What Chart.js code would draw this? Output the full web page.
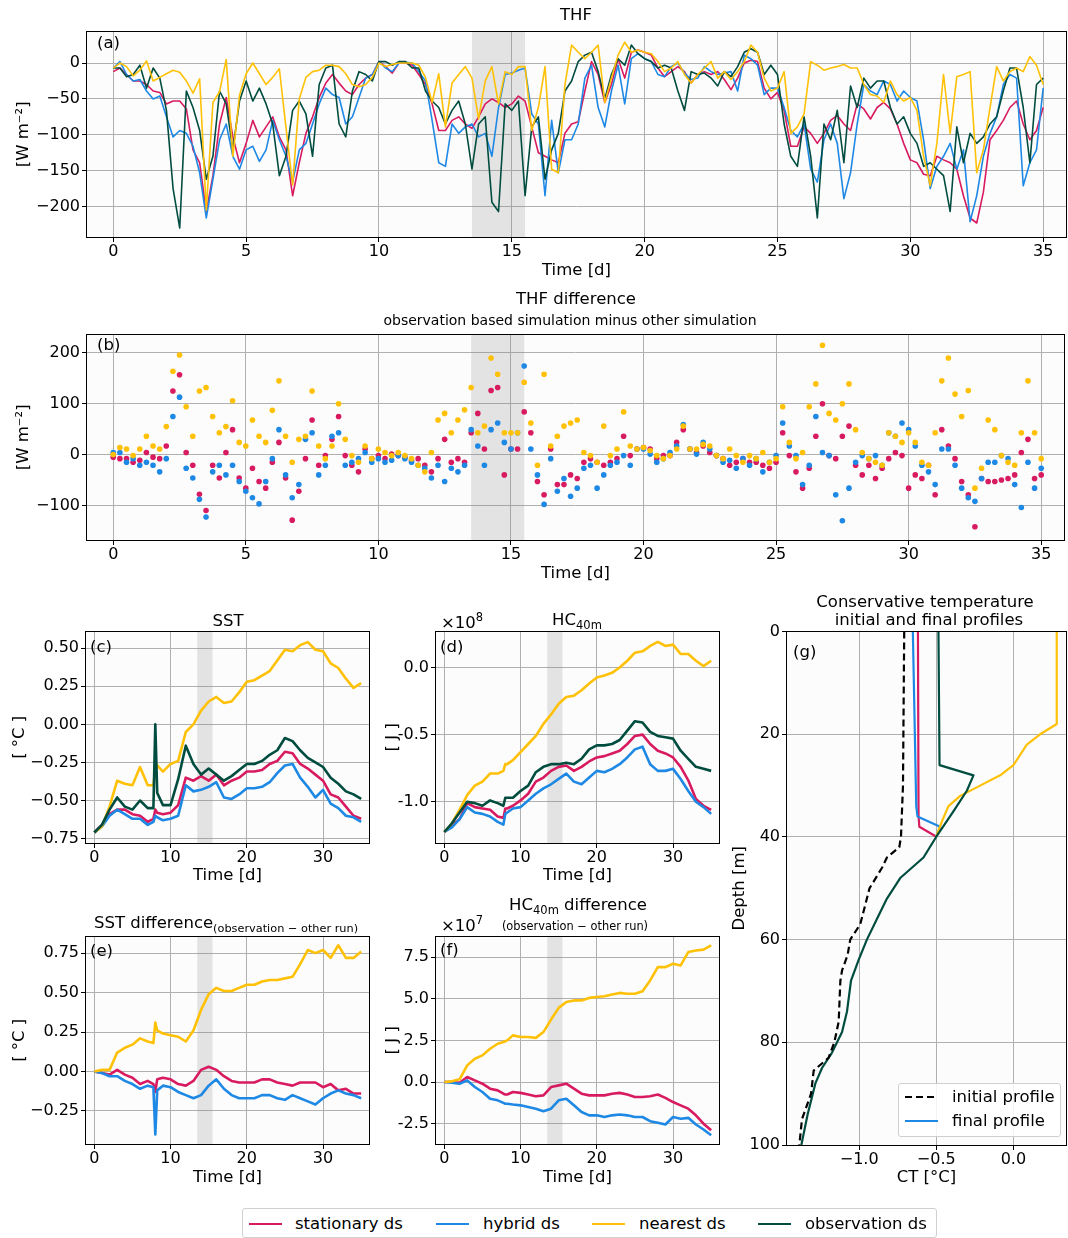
<!DOCTYPE html>
<html>
<head>
<meta charset="utf-8">
<script src="https://cdn.jsdelivr.net/npm/chart.js@4.4.1/dist/chart.umd.min.js"></script>
<style>
  body { margin: 0; background: #fff; }
  #fig { position: relative; width: 1068px; height: 1238px; overflow: hidden; font-family: 'DejaVu Sans', sans-serif; color: #000; }
  canvas { position: absolute; }
  .txt { position: absolute; white-space: nowrap; line-height: 1; font-size: 16.5px; z-index: 5; }
  .c { transform: translate(-50%, -50%); }
  .l { transform: translateY(-50%); }
  .sub { font-size: 11.5px; position: relative; top: 4px; }
  .sup { font-size: 11.5px; position: relative; top: -7px; }
  .box { position: absolute; box-sizing: border-box; border: 1px solid #d0d0d0; border-radius: 3px; background: rgba(255,255,255,0.85); z-index: 5; }
  .sw { position: absolute; width: 33px; height: 2px; }
  .lt { position: absolute; white-space: nowrap; line-height: 1; font-size: 16.5px; transform: translateY(-50%); }
</style>
</head>
<body>
<div id="fig">
  <canvas id="cA" width="1068" height="270" style="left:0;top:20px"></canvas>
  <canvas id="cB" width="1068" height="270" style="left:0;top:323px"></canvas>
  <canvas id="cC" width="380" height="270" style="left:0;top:620px"></canvas>
  <canvas id="cD" width="360" height="270" style="left:370px;top:620px"></canvas>
  <canvas id="cE" width="380" height="270" style="left:0;top:925px"></canvas>
  <canvas id="cF" width="360" height="270" style="left:370px;top:925px"></canvas>
  <canvas id="cG" width="343" height="580" style="left:725px;top:620px"></canvas>

  <div class="txt c" style="left:576px;top:15px">THF</div>
  <div class="txt c" style="left:576px;top:299px">THF difference</div>
  <div class="txt c" style="left:570px;top:320px;font-size:14px">observation based simulation minus other simulation</div>
  <div class="txt c" style="left:228px;top:621px">SST</div>
  <div class="txt c" style="left:577px;top:620px">HC<span class="sub">40m</span></div>
  <div class="txt l" style="left:441px;top:623px">×10<span class="sup">8</span></div>
  <div class="txt l" style="left:94px;top:923px">SST difference<span class="sub" style="font-size:11.3px">(observation − other run)</span></div>
  <div class="txt c" style="left:578px;top:905px">HC<span class="sub">40m</span> difference</div>
  <div class="txt c" style="left:575px;top:927px;font-size:11.4px">(observation − other run)</div>
  <div class="txt l" style="left:441px;top:926px">×10<span class="sup">7</span></div>
  <div class="txt c" style="left:925px;top:602px">Conservative temperature</div>
  <div class="txt c" style="left:929px;top:620px">initial and final profiles</div>

  <div class="txt l" style="left:97px;top:43px">(a)</div>
  <div class="txt l" style="left:97px;top:345px">(b)</div>
  <div class="txt l" style="left:90px;top:647px">(c)</div>
  <div class="txt l" style="left:440px;top:647px">(d)</div>
  <div class="txt l" style="left:90px;top:951px">(e)</div>
  <div class="txt l" style="left:440px;top:950px">(f)</div>
  <div class="txt l" style="left:793px;top:652px">(g)</div>

  <div class="box" style="left:898px;top:1083px;width:163px;height:54px">
    <span class="sw" style="left:6px;top:12px;background:repeating-linear-gradient(to right,#000 0 7px,transparent 7px 11px)"></span>
    <span class="lt" style="left:53px;top:13px">initial profile</span>
    <span class="sw" style="left:6px;top:36px;background:#1E88E5"></span>
    <span class="lt" style="left:53px;top:37px">final profile</span>
  </div>

  <div class="box" style="left:242px;top:1208px;width:695px;height:30px;background:#fff">
    <span class="sw" style="left:6px;top:14px;background:#D81B60"></span>
    <span class="lt" style="left:52px;top:15px">stationary ds</span>
    <span class="sw" style="left:193px;top:14px;background:#1E88E5"></span>
    <span class="lt" style="left:240px;top:15px">hybrid ds</span>
    <span class="sw" style="left:349px;top:14px;background:#FFC107"></span>
    <span class="lt" style="left:396px;top:15px">nearest ds</span>
    <span class="sw" style="left:515px;top:14px;background:#004D40"></span>
    <span class="lt" style="left:562px;top:15px">observation ds</span>
  </div>
</div>

<script>
// ---- time axes ----
const daysFine = [];
for (let i = 0; i <= 140; ++i) daysFine.push(i / 4);   // 0 .. 35 every 6 h
const daysCoarse = [0, 1, 2, 3, 4, 5, 6, 7, 7.75, 8, 8.25, 9, 10, 11, 12, 13, 14, 15, 16, 17, 18, 19, 20,
    21, 22, 23, 24, 25, 26, 27, 28, 29, 30, 31, 32, 33, 34, 35];

// ---- (a) THF [W m-2] ----
const thfStationary = [
    -12, -7, -16, -25, -25, -30, -39, -41, -57, -53, -53, -64,
    -121, -139, -207, -157, -85, -48, -103, -139, -112, -80, -103, -89,
    -75, -103, -121, -185, -139, -98, -75, -48, -28, -16, -28, -39,
    -44, -30, -21, -16, 2, -5, -14, 0, 0, -3, -16, -30,
    -57, -94, -94, -80, -75, -85, -91, -75, -57, -50, -55, -62,
    -57, -46, -53, -89, -125, -130, -135, -139, -98, -85, -82, -39,
    2, -16, -55, -30, 6, -21, 15, 18, 15, 11, -7, -19,
    -12, -5, -12, -28, -16, -12, -16, -12, -23, -37, -21, 0,
    4, 2, -35, -50, -41, -66, -116, -116, -89, -98, -112, -98,
    -80, -73, -85, -94, -57, -64, -78, -62, -55, -64, -85, -112,
    -135, -139, -155, -157, -130, -135, -139, -148, -185, -216, -223, -180,
    -107, -94, -80, -62, -53, -85, -107, -94, -62];
const thfHybrid = [
    -7, 2, -16, -25, -23, -39, -50, -46, -75, -103, -94, -98,
    -116, -153, -216, -162, -107, -85, -130, -148, -121, -116, -137, -121,
    -80, -107, -130, -166, -121, -112, -85, -57, -35, -44, -48, -85,
    -75, -48, -21, -16, 2, -7, -12, 0, 1, 0, -12, -25,
    -80, -139, -144, -85, -98, -89, -85, -103, -98, -130, -62, -16,
    -14, -10, -7, -71, -85, -185, -80, -153, -107, -107, -85, -21,
    -3, -62, -89, -39, -3, -57, 6, 13, 6, 2, -16, -19,
    -5, 0, -14, -23, -21, -5, -12, -16, -14, -12, -39, 11,
    6, -3, -44, -35, -35, -62, -94, -103, -85, -148, -166, -107,
    -85, -112, -189, -153, -85, -30, -39, -44, -25, -30, -53, -39,
    -48, -53, -107, -175, -144, -130, -112, -148, -121, -221, -185, -130,
    -98, -75, -30, -16, -21, -171, -139, -121, -35];
const thfNearest = [
    -7, 0, -5, -18, -10, 3, -25, -20, -15, -10, -13, -25,
    -42, -22, -205, -55, -40, 5, -130, -45, -15, 0, -15, -30,
    -20, -8, -90, -170, -50, -20, -12, -10, -3, -3, -5, -15,
    -30, -33, -30, -20, 0, -5, -2, 0, 0, 0, -3, -20,
    -55, -15, -89, -28, -16, -5, -21, -78, -25, -5, -57, -12,
    -16, -5, -5, -94, -62, -5, -148, -153, -30, 25, 15, 6,
    15, 25, -55, -21, 11, 29, 15, 18, 15, 13, 2, -12,
    -7, 2, -16, -28, -16, -7, 2, -21, -12, -23, -12, 2,
    25, 15, -21, -39, -35, -12, -98, -89, -71, 2, -3, -10,
    -7, -5, -2, -7, -7, -30, -44, -46, -55, -25, -44, -53,
    -48, -66, -130, -171, -112, -16, -98, -19, -16, -12, -153, -121,
    -62, -5, -25, -12, -7, -12, 9, -3, -30];
const thfObservation = [
    -7, -7, -19, -16, -3, -35, -7, -21, -66, -175, -230, -39,
    -62, -94, -162, -130, -39, -57, -121, -53, -25, -53, -35, -57,
    -85, -157, -130, -66, -53, -71, -130, -30, -7, -3, -85, -103,
    -39, -12, -16, -25, 2, 2, -3, 2, 2, -7, -7, -39,
    -53, -62, -85, -66, -53, -85, -148, -85, -75, -194, -207, -57,
    -66, -53, -185, -89, -75, -162, -121, -98, -39, -25, 2, 11,
    15, -12, -50, -16, 6, -3, 25, 13, 6, 2, -7, -3,
    -7, -39, -66, -12, -16, -14, -21, -32, -12, -19, -5, 15,
    20, 15, -16, -3, -16, -85, -130, -144, -75, -130, -216, -85,
    -107, -66, -139, -32, -62, -21, -35, -25, -25, -62, -85, -75,
    -98, -112, -144, -139, -148, -157, -207, -89, -139, -98, -112, -103,
    -85, -75, -39, -7, -7, -62, -139, -30, -21];

// ---- (b) THF difference, observation run minus other run [W m-2] ----
const diffStationary = [
    -5, -8, -8, -15, -11, 4, -5, -8, 17, 125, 157, 4,
    -21, -78, -110, -21, -46, 4, 49, -46, -66, -27, -53, -66,
    -15, 24, -46, -129, -72, -8, 68, -21, -2, 30, 75, -2,
    -21, -34, 11, -8, -2, -8, 1, -2, -5, -11, -8, -21,
    -34, -8, 30, -15, -8, -15, 43, 81, 11, 126, 132, -40,
    11, 11, 84, 43, -53, -79, 11, -59, -59, -40, -47, -15,
    -8, -15, -21, -15, -8, 36, -2, 11, 14, 11, -8, -2,
    -2, 24, 49, 11, 4, 17, 4, -2, -8, -21, -15, -8,
    -15, -15, -21, -27, -15, 43, -2, -34, -66, -27, 36, 100,
    -2, -8, 36, 56, -21, -40, -21, -47, -27, -8, 4, -2,
    -66, -40, -47, -21, -79, 49, 17, -8, -53, -79, -142, -47,
    -53, -53, -50, -47, -40, 4, 30, -47, -40];
const diffHybrid = [
    4, 4, -15, -8, -21, -15, -21, -34, -8, 75, 113, -27,
    -46, -88, -123, -34, -21, -40, -21, -53, -72, -85, -97, -53,
    -8, 49, -40, -85, -59, 30, 43, -40, -21, 36, 43, -21,
    -15, -8, 4, -15, -8, -15, -11, -2, -8, -15, -21, -27,
    -46, -21, -53, -27, -34, -21, 49, 17, -21, 49, 62, 24,
    11, 43, 174, 11, -40, -98, -8, -72, -47, -82, -66, -27,
    -21, -66, -40, -21, -15, -2, -21, 11, 11, 1, -15, -8,
    4, 17, 59, 11, 1, 24, 11, -2, -15, -11, -27, -8,
    -21, -8, -34, -15, -2, 62, 17, -2, -59, -21, 75, 4,
    -2, -79, -130, -66, -15, -2, -8, -2, -21, 43, 36, 62,
    49, 17, -21, -34, -59, 11, 11, -21, -66, -85, -92, -47,
    -15, -15, -2, -8, -59, -104, -15, -66, -27];
const diffNearest = [
    0, 14, 11, -2, 11, 36, 17, 11, 55, 164, 196, 94,
    36, 125, 132, 75, 43, 55, 106, 24, 17, 68, 36, 24,
    87, 145, 36, -15, 30, 36, 125, 17, -8, 17, 100, 30,
    -2, -15, 17, -8, 11, 4, -2, 4, -2, -8, -21, -34,
    4, 68, 81, 43, 68, 88, 132, 43, 56, 190, 158, 43,
    43, 43, 142, 62, -21, 158, 17, 36, 56, 62, 68, 4,
    -2, -15, 56, -2, 11, 84, 17, 11, 14, 8, -2, -8,
    -2, 11, 56, 11, 11, 20, 17, -2, -8, 11, -2, -15,
    -2, -8, 4, -15, -8, 94, 24, -8, 4, 94, 139, 215,
    81, 68, 100, 139, 49, 4, -8, -15, -21, 43, 36, 24,
    43, 24, -15, -21, 43, 145, 190, 119, 75, 126, -66, -27,
    68, 49, -2, -15, -21, 43, 145, 43, -8];

// ---- (c) SST [°C] ----
const sstStationary = [-0.71, -0.66, -0.59, -0.56, -0.56, -0.59, -0.60, -0.64, -0.62, -0.56, -0.58,
    -0.59, -0.58, -0.53, -0.35, -0.37, -0.34, -0.37, -0.33, -0.40, -0.37, -0.35, -0.31, -0.31, -0.30,
    -0.26, -0.24, -0.18, -0.19, -0.26, -0.29, -0.33, -0.37, -0.46, -0.48, -0.54, -0.60, -0.62];
const sstHybrid = [-0.71, -0.67, -0.60, -0.56, -0.59, -0.62, -0.62, -0.66, -0.64, -0.60, -0.61,
    -0.63, -0.62, -0.60, -0.40, -0.44, -0.43, -0.41, -0.38, -0.48, -0.49, -0.46, -0.42, -0.42, -0.41,
    -0.38, -0.32, -0.27, -0.26, -0.35, -0.41, -0.48, -0.43, -0.52, -0.55, -0.60, -0.61, -0.64];
const sstNearest = [-0.71, -0.67, -0.54, -0.37, -0.39, -0.40, -0.28, -0.40, -0.40, -0.29, -0.27,
    -0.31, -0.26, -0.24, -0.05, 0.0, 0.09, 0.15, 0.18, 0.14, 0.15, 0.21, 0.28, 0.29, 0.32,
    0.35, 0.42, 0.49, 0.48, 0.52, 0.54, 0.49, 0.48, 0.40, 0.37, 0.30, 0.24, 0.27];
const sstObservation = [-0.71, -0.66, -0.56, -0.48, -0.54, -0.56, -0.50, -0.55, -0.55, 0.0, -0.45,
    -0.53, -0.53, -0.36, -0.14, -0.26, -0.33, -0.29, -0.33, -0.37, -0.34, -0.30, -0.26, -0.26, -0.24,
    -0.20, -0.17, -0.09, -0.11, -0.17, -0.22, -0.25, -0.28, -0.35, -0.39, -0.44, -0.46, -0.49];

// ---- (d) HC40m [x1e8 J] ----
const hcStationary = [-1.225, -1.175, -1.13, -1.01, -1.04, -1.05, -1.06, -1.11, -1.12, -1.05, -1.05,
    -1.03, -0.99, -0.94, -0.85, -0.82, -0.77, -0.74, -0.73, -0.77, -0.74, -0.70, -0.67, -0.66, -0.64,
    -0.62, -0.57, -0.51, -0.50, -0.57, -0.62, -0.64, -0.67, -0.74, -0.84, -0.98, -1.03, -1.06];
const hcHybrid = [-1.225, -1.19, -1.13, -1.04, -1.08, -1.09, -1.11, -1.15, -1.17, -1.09, -1.08,
    -1.05, -1.04, -0.99, -0.94, -0.90, -0.87, -0.83, -0.79, -0.85, -0.87, -0.82, -0.77, -0.78, -0.755,
    -0.72, -0.67, -0.61, -0.59, -0.72, -0.77, -0.77, -0.755, -0.83, -0.92, -1.00, -1.04, -1.09];
const hcNearest = [-1.225, -1.16, -1.06, -0.95, -0.88, -0.85, -0.79, -0.79, -0.77, -0.72, -0.72,
    -0.69, -0.63, -0.57, -0.51, -0.42, -0.35, -0.27, -0.22, -0.21, -0.17, -0.12, -0.075, -0.06, -0.04,
    0.0, 0.05, 0.11, 0.12, 0.16, 0.19, 0.16, 0.17, 0.10, 0.10, 0.05, 0.01, 0.05];
const hcObservation = [-1.225, -1.16, -1.08, -1.00, -1.01, -1.03, -0.99, -1.01, -1.03, -0.97, -0.97,
    -0.97, -0.92, -0.88, -0.78, -0.74, -0.72, -0.72, -0.71, -0.72, -0.68, -0.61, -0.58, -0.58, -0.57,
    -0.54, -0.47, -0.40, -0.41, -0.48, -0.51, -0.52, -0.53, -0.62, -0.68, -0.74, -0.755, -0.77];

// ---- (e) SST difference, observation minus other run [°C] ----
const sstDiffStationary = [0, -0.01, -0.02, 0.01, -0.02, -0.04, -0.08, -0.06, -0.08, -0.13, -0.05,
    -0.04, -0.05, -0.08, -0.09, -0.06, 0.01, 0.03, 0.01, -0.03, -0.06, -0.07, -0.07, -0.07, -0.05,
    -0.05, -0.07, -0.08, -0.09, -0.07, -0.07, -0.07, -0.10, -0.08, -0.12, -0.11, -0.14, -0.14];
const sstDiffHybrid = [0, -0.01, -0.03, -0.03, -0.06, -0.08, -0.11, -0.09, -0.10, -0.40, -0.12,
    -0.09, -0.10, -0.13, -0.15, -0.17, -0.15, -0.09, -0.05, -0.11, -0.15, -0.17, -0.17, -0.17, -0.15,
    -0.15, -0.17, -0.18, -0.15, -0.17, -0.19, -0.21, -0.17, -0.14, -0.12, -0.14, -0.15, -0.17];
const sstDiffNearest = [0, 0.01, 0.01, 0.12, 0.15, 0.17, 0.21, 0.19, 0.18, 0.31, 0.26,
    0.24, 0.23, 0.22, 0.19, 0.26, 0.39, 0.49, 0.53, 0.51, 0.51, 0.53, 0.55, 0.55, 0.57,
    0.58, 0.58, 0.59, 0.60, 0.68, 0.77, 0.75, 0.77, 0.72, 0.80, 0.72, 0.72, 0.76];

// ---- (f) HC40m difference, observation minus other run [x1e7 J] ----
const hcDiffStationary = [0, 0, -0.04, 0.3, 0.1, -0.1, -0.4, -0.5, -0.7, -0.75, -0.75,
    -0.6, -0.65, -0.75, -0.85, -0.8, -0.3, -0.2, -0.1, -0.4, -0.7, -0.8, -0.8, -0.8, -0.7,
    -0.65, -0.75, -0.9, -0.9, -0.85, -0.75, -0.95, -1.2, -1.4, -1.6, -2.0, -2.5, -2.9];
const hcDiffHybrid = [0, -0.04, -0.1, 0.1, -0.3, -0.6, -1.0, -1.1, -1.25, -1.3, -1.3,
    -1.35, -1.4, -1.5, -1.6, -1.75, -1.6, -1.1, -1.0, -1.4, -1.8, -2.0, -2.0, -2.1, -2.0,
    -1.95, -2.0, -2.1, -2.1, -2.35, -2.45, -2.55, -2.1, -2.2, -2.15, -2.55, -2.85, -3.2];
const hcDiffNearest = [0, 0.04, 0.16, 1.0, 1.4, 1.6, 2.0, 2.3, 2.4, 2.45, 2.5,
    2.8, 2.7, 2.7, 2.65, 3.0, 3.75, 4.45, 4.8, 4.9, 4.9, 5.05, 5.1, 5.15, 5.25,
    5.35, 5.3, 5.3, 5.45, 6.1, 6.9, 6.9, 7.1, 7.0, 7.8, 7.9, 7.95, 8.2];

// ---- (g) conservative temperature profiles [°C] vs depth [m] ----
const depthInitial = [0, 30, 40, 42, 44, 46, 50, 57, 60, 63, 66, 68, 76, 80, 83, 85.5, 90, 95, 100];
const ctInitial = [-0.708, -0.716, -0.729, -0.740, -0.82, -0.852, -0.933, -0.993, -1.058, -1.075, -1.111,
    -1.122, -1.133, -1.161, -1.198, -1.295, -1.312, -1.371, -1.388];
const depthObservation = [0, 26, 28, 31, 35, 40, 44, 48, 52, 56, 60, 64, 68, 74, 78, 82, 85, 88, 94, 100];
const ctObservation = [-0.486, -0.479, -0.259, -0.302, -0.389, -0.501, -0.583, -0.734, -0.82, -0.885, -0.950,
    -1.004, -1.053, -1.079, -1.111, -1.176, -1.241, -1.284, -1.334, -1.375];
const depthNearest = [0, 18, 20, 22, 26, 28, 30, 32, 34, 37, 40];
const ctNearest = [0.281, 0.281, 0.173, 0.087, 0.0, -0.086, -0.216, -0.345, -0.421, -0.464, -0.501];
const depthHybrid = [0, 34, 36, 38, 40];
const ctHybrid = [-0.652, -0.630, -0.622, -0.475, -0.501];
const depthStationary = [0, 36, 38, 40];
const ctStationary = [-0.619, -0.615, -0.610, -0.496];

const RED = '#D81B60', BLUE = '#1E88E5', YELLOW = '#FFC107', GREEN = '#004D40';
const SHADE = [13.5, 15.5];

Chart.defaults.font.family = "'DejaVu Sans', sans-serif";
Chart.defaults.color = '#000';

const panelPlugin = {
    id: 'panel',
    beforeDraw(chart) {
        let a = chart.chartArea, ctx = chart.ctx;
        ctx.save();
        ctx.fillStyle = '#fcfcfc';
        ctx.fillRect(a.left, a.top, a.right - a.left, a.bottom - a.top);
        ctx.restore();
    },
    beforeDatasetsDraw(chart, args, opts) {
        if (!opts.shade) return;
        let a = chart.chartArea, ctx = chart.ctx, x = chart.scales.x;
        let x0 = x.getPixelForValue(opts.shade[0]);
        let x1 = x.getPixelForValue(opts.shade[1]);
        ctx.save();
        ctx.fillStyle = 'rgba(128,128,128,0.2)';
        ctx.fillRect(x0, a.top, x1 - x0, a.bottom - a.top);
        ctx.restore();
    },
    afterDraw(chart) {
        let a = chart.chartArea, ctx = chart.ctx;
        ctx.save();
        ctx.strokeStyle = '#000';
        ctx.lineWidth = 1;
        ctx.strokeRect(Math.round(a.left) - 0.5, Math.round(a.top) - 0.5,
            Math.round(a.right - a.left) + 1, Math.round(a.bottom - a.top) + 1);
        ctx.restore();
    }
};

function minus(s) {
    return String(s).replace('-', '\u2212');
}

function pairs(xs, ys) {
    let out = [];
    for (let i = 0; i < ys.length; ++i) {
        out.push({x: xs[i], y: ys[i]});
    }
    return out;
}

function lineSet(label, xs, ys, color, width, order) {
    return {
        label: label, data: pairs(xs, ys), showLine: true,
        borderColor: color, backgroundColor: color, borderWidth: width,
        borderJoinStyle: 'round', pointRadius: 0, tension: 0, order: order
    };
}

function dotSet(label, xs, ys, color, order) {
    return {
        label: label, data: pairs(xs, ys), showLine: false,
        backgroundColor: color, borderWidth: 0, pointRadius: 2.8, order: order
    };
}

function axis(a, isX, size) {
    return {
        type: 'linear',
        position: isX ? 'bottom' : 'left',
        min: a.min, max: a.max, reverse: !!a.reverse,
        afterBuildTicks: function (s) { s.ticks = a.ticks.map(v => ({value: v})); },
        afterFit: function (s) { if (isX) s.height = size; else s.width = size; },
        ticks: {
            callback: v => a.fmt(v), font: {size: 16}, color: '#000',
            padding: isX ? 0 : 2, autoSkip: false, maxRotation: 0
        },
        grid: { color: '#b0b0b0', lineWidth: 1, tickLength: 5, tickColor: '#000', tickWidth: 1 },
        border: { display: false },
        title: { display: true, text: a.title, font: {size: 16.5}, color: '#000', padding: {top: 4, bottom: 4} }
    };
}

function makeChart(id, spec) {
    let ctx = document.getElementById(id).getContext('2d');
    return new Chart(ctx, {
        type: 'scatter',
        data: { datasets: spec.datasets },
        options: {
            responsive: false,
            animation: false,
            events: [],
            layout: { padding: spec.pad },
            plugins: {
                legend: { display: false },
                tooltip: { enabled: false },
                panel: { shade: spec.shade }
            },
            scales: {
                x: axis(spec.x, true, spec.xh),
                y: axis(spec.y, false, spec.yw)
            }
        },
        plugins: [panelPlugin]
    });
}

const timeAxisLong = { min: -0.99, max: 35.86, ticks: [0, 5, 10, 15, 20, 25, 30, 35], fmt: v => String(v), title: 'Time [d]' };
const timeAxisShort = { min: -1.09, max: 36.03, ticks: [0, 10, 20, 30], fmt: v => String(v), title: 'Time [d]' };
const padLong = { left: 10, right: 2, top: 6, bottom: 5 };

window.onload = function () {
    makeChart('cA', {
        pad: padLong, yw: 77, xh: 48, shade: SHADE,
        x: timeAxisLong,
        y: { min: -242.5, max: 43.8, ticks: [-200, -150, -100, -50, 0], fmt: v => minus(v), title: '[W m\u207B\u00B2]' },
        datasets: [
            lineSet('stationary ds', daysFine, thfStationary, RED, 1.6, 3),
            lineSet('hybrid ds', daysFine, thfHybrid, BLUE, 1.6, 2),
            lineSet('observation ds', daysFine, thfObservation, GREEN, 1.6, 1),
            lineSet('nearest ds', daysFine, thfNearest, YELLOW, 1.6, 0)
        ]
    });

    makeChart('cB', {
        pad: padLong, yw: 77, xh: 48, shade: SHADE,
        x: timeAxisLong,
        y: { min: -168, max: 236, ticks: [-100, 0, 100, 200], fmt: v => minus(v), title: '[W m\u207B\u00B2]' },
        datasets: [
            dotSet('stationary ds', daysFine, diffStationary, RED, 2),
            dotSet('hybrid ds', daysFine, diffHybrid, BLUE, 1),
            dotSet('nearest ds', daysFine, diffNearest, YELLOW, 0)
        ]
    });

    makeChart('cC', {
        pad: { left: 6, right: 11, top: 11, bottom: 0 }, yw: 80, xh: 47, shade: SHADE,
        x: timeAxisShort,
        y: { min: -0.779, max: 0.609, ticks: [-0.75, -0.5, -0.25, 0, 0.25, 0.5], fmt: v => minus(v.toFixed(2)), title: '[ °C ]' },
        datasets: [
            lineSet('stationary ds', daysCoarse, sstStationary, RED, 2.6, 3),
            lineSet('hybrid ds', daysCoarse, sstHybrid, BLUE, 2.6, 2),
            lineSet('nearest ds', daysCoarse, sstNearest, YELLOW, 2.6, 1),
            lineSet('observation ds', daysCoarse, sstObservation, GREEN, 2.6, 0)
        ]
    });

    makeChart('cD', {
        pad: { left: 9, right: 11, top: 11, bottom: 0 }, yw: 57, xh: 47, shade: SHADE,
        x: timeAxisShort,
        y: { min: -1.307, max: 0.267, ticks: [-1, -0.5, 0], fmt: v => v.toFixed(1), title: '[ J ]' },
        datasets: [
            lineSet('stationary ds', daysCoarse, hcStationary, RED, 2.6, 3),
            lineSet('hybrid ds', daysCoarse, hcHybrid, BLUE, 2.6, 2),
            lineSet('nearest ds', daysCoarse, hcNearest, YELLOW, 2.6, 1),
            lineSet('observation ds', daysCoarse, hcObservation, GREEN, 2.6, 0)
        ]
    });

    makeChart('cE', {
        pad: { left: 6, right: 11, top: 9, bottom: 3 }, yw: 80, xh: 48, shade: SHADE,
        x: timeAxisShort,
        y: { min: -0.46, max: 0.855, ticks: [-0.25, 0, 0.25, 0.5, 0.75], fmt: v => minus(v.toFixed(2)), title: '[ °C ]' },
        datasets: [
            lineSet('stationary ds', daysCoarse, sstDiffStationary, RED, 2.6, 2),
            lineSet('hybrid ds', daysCoarse, sstDiffHybrid, BLUE, 2.6, 1),
            lineSet('nearest ds', daysCoarse, sstDiffNearest, YELLOW, 2.6, 0)
        ]
    });

    makeChart('cF', {
        pad: { left: 9, right: 11, top: 9, bottom: 3 }, yw: 57, xh: 48, shade: SHADE,
        x: timeAxisShort,
        y: { min: -3.72, max: 8.73, ticks: [-2.5, 0, 2.5, 5, 7.5], fmt: v => v.toFixed(1), title: '[ J ]' },
        datasets: [
            lineSet('stationary ds', daysCoarse, hcDiffStationary, RED, 2.6, 2),
            lineSet('hybrid ds', daysCoarse, hcDiffHybrid, BLUE, 2.6, 1),
            lineSet('nearest ds', daysCoarse, hcDiffNearest, YELLOW, 2.6, 0)
        ]
    });

    let initial = lineSet('initial profile', ctInitial, depthInitial, '#000', 2.2, 0);
    initial.borderDash = [7, 4];
    makeChart('cG', {
        pad: { left: 1, right: 2, top: 11, bottom: 8 }, yw: 61, xh: 47, shade: null,
        x: { min: -1.468, max: 0.341, ticks: [-1, -0.5, 0], fmt: v => minus(v.toFixed(1)), title: 'CT [°C]' },
        y: { min: 0, max: 100, reverse: true, ticks: [0, 20, 40, 60, 80, 100], fmt: v => String(v), title: 'Depth [m]' },
        datasets: [
            lineSet('stationary ds', ctStationary, depthStationary, RED, 2.2, 4),
            lineSet('hybrid ds', ctHybrid, depthHybrid, BLUE, 2.2, 3),
            lineSet('nearest ds', ctNearest, depthNearest, YELLOW, 2.2, 2),
            lineSet('observation ds', ctObservation, depthObservation, GREEN, 2.2, 1),
            initial
        ]
    });
};
</script>
</body>
</html>
